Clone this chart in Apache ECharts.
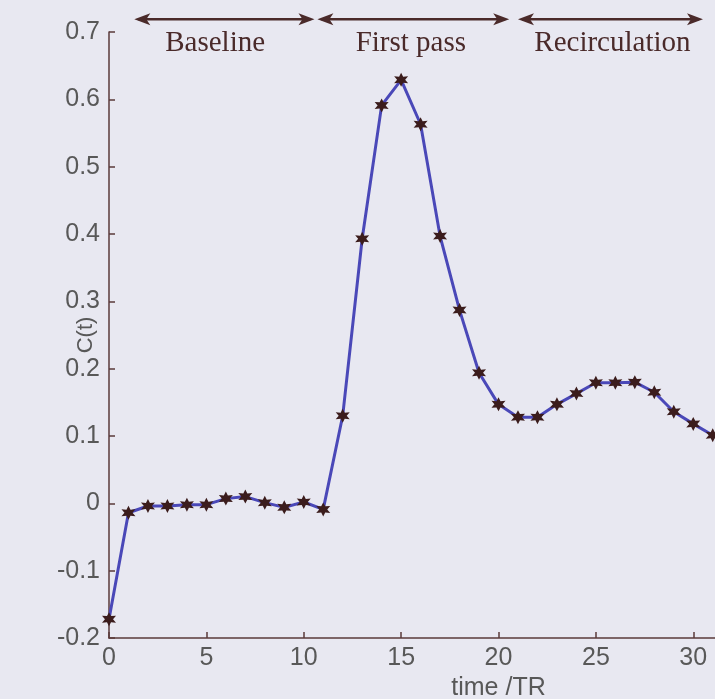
<!DOCTYPE html>
<html>
<head>
<meta charset="utf-8">
<script src="https://cdn.jsdelivr.net/npm/echarts@6/dist/echarts.min.js"></script>
<style>
  html, body { margin: 0; padding: 0; background: #e8e8f1; }
  #chart { width: 715px; height: 699px; }
</style>
</head>
<body>
<div id="chart"></div>
<script>
// sample index (time in TR) and concentration
const times = [0, 1, 2, 3, 4, 5, 6, 7, 8, 9, 10, 11, 12, 13, 14, 15,
  16, 17, 18, 19, 20, 21, 22, 23, 24, 25, 26, 27, 28, 29, 30, 31];
const conc = [-0.172, -0.014, -0.004, -0.004, -0.002, -0.002, 0.007, 0.010,
  0.001, -0.006, 0.002, -0.009, 0.130, 0.393, 0.591, 0.629,
  0.563, 0.397, 0.287, 0.194, 0.147, 0.128, 0.128, 0.147,
  0.163, 0.179, 0.179, 0.180, 0.165, 0.136, 0.118, 0.101];

// phase annotations above the plot
const phaseNames = ["Baseline", "First pass", "Recirculation"];
const phaseStart = [1.3, 10.7, 21.0];
const phaseEnd = [10.55, 20.55, 30.5];
const phaseLabelX = [5.45, 15.5, 25.85];
const arrowY = 0.719;
const labelY = 0.683;

const AXIS = "#5a3a3a";
const TICKTXT = "#585858";
const INK = "#4a2a2a";

// matlab-ish asterisk marker
function starPath(n, inner) {
  let d = "";
  for (let i = 0; i < 2 * n; i++) {
    const r = i % 2 ? inner : 1;
    const a = (Math.PI * i) / n - Math.PI / 2;
    d += (i ? "L" : "M") + (r * Math.cos(a) * 10).toFixed(2) + " " + (r * Math.sin(a) * 10).toFixed(2);
  }
  return "path://" + d + "Z";
}

const chart = echarts.init(document.getElementById("chart"), null, { renderer: "canvas" });

chart.setOption({
  backgroundColor: "#e8e8f1",
  animation: false,
  grid: { left: 109, right: -173, top: 32, bottom: 61, outerBoundsMode: "none" },
  xAxis: {
    type: "value",
    min: 0,
    max: 40,
    interval: 5,
    name: "time /TR",
    nameLocation: "middle",
    nameGap: 36,
    nameTextStyle: { color: TICKTXT, fontSize: 25, fontFamily: "Liberation Sans" },
    axisLine: { onZero: false, lineStyle: { color: AXIS, width: 1.5 } },
    axisTick: { inside: true, length: 6, lineStyle: { color: AXIS, width: 1.5 } },
    axisLabel: { color: TICKTXT, fontSize: 25, fontFamily: "Liberation Sans", margin: 8 },
    splitLine: { show: false },
  },
  yAxis: {
    type: "value",
    min: -0.2,
    max: 0.7,
    interval: 0.1,
    name: "C(t)",
    nameLocation: "middle",
    nameGap: 12,
    nameMoveOverlap: false,
    nameTextStyle: { color: TICKTXT, fontSize: 22, fontFamily: "Liberation Sans" },
    axisLine: { show: true, onZero: false, lineStyle: { color: AXIS, width: 1.5 } },
    axisTick: { show: true, inside: true, length: 6, lineStyle: { color: AXIS, width: 1.5 } },
    axisLabel: {
      color: TICKTXT,
      fontSize: 25,
      fontFamily: "Liberation Sans",
      margin: 9,
      formatter: (v) => String(Math.round(v * 10) / 10),
    },
    splitLine: { show: false },
  },
  series: [{
    type: "line",
    data: times.map((t, i) => [t, conc[i]]),
    symbol: starPath(6, 0.5),
    symbolSize: 14,
    showAllSymbol: true,
    itemStyle: { color: "#3b1c1c" },
    lineStyle: { color: "#4a48b8", width: 3 },
  }],
});

function drawPhases() {
  const els = [];
  const head = 16, half = 6;
  phaseNames.forEach((name, i) => {
    const p0 = chart.convertToPixel({ gridIndex: 0 }, [phaseStart[i], arrowY]);
    const p1 = chart.convertToPixel({ gridIndex: 0 }, [phaseEnd[i], arrowY]);
    const y = p0[1];
    els.push({
      type: "line",
      shape: { x1: p0[0] + 4, y1: y, x2: p1[0] - 4, y2: y },
      style: { stroke: INK, lineWidth: 2.5 },
    });
    els.push({
      type: "polygon",
      shape: { points: [[p0[0], y], [p0[0] + head, y - half], [p0[0] + head - 4, y], [p0[0] + head, y + half]] },
      style: { fill: INK },
    });
    els.push({
      type: "polygon",
      shape: { points: [[p1[0], y], [p1[0] - head, y - half], [p1[0] - head + 4, y], [p1[0] - head, y + half]] },
      style: { fill: INK },
    });
    const lp = chart.convertToPixel({ gridIndex: 0 }, [phaseLabelX[i], labelY]);
    els.push({
      type: "text",
      x: lp[0],
      y: lp[1],
      style: {
        text: name,
        fill: INK,
        font: '29px "Liberation Serif"',
        textAlign: "center",
        textVerticalAlign: "middle",
      },
    });
  });
  chart.setOption({ graphic: els });
}
drawPhases();
</script>
</body>
</html>
